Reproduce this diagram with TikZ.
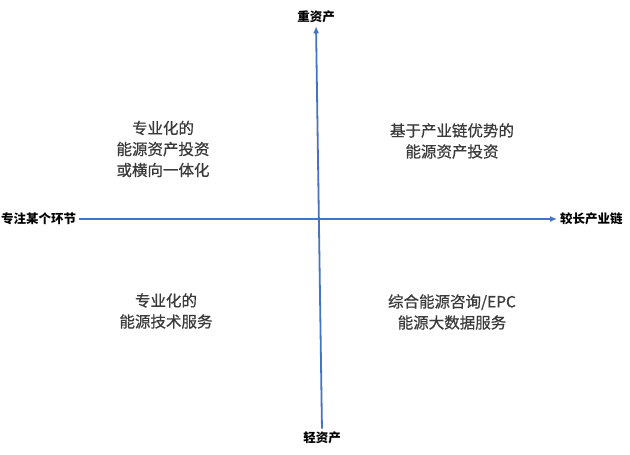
\documentclass[tikz,border=0pt]{standalone}
\usepackage{fontspec}
\setmainfont{Noto Sans CJK SC}
\newfontfamily\quadfont{Noto Sans CJK SC}[FakeBold=0.7]
\usetikzlibrary{arrows.meta}
\definecolor{axisblue}{HTML}{4472C4}
\definecolor{txtgray}{HTML}{3A3A3A}

\begin{document}
\begin{tikzpicture}[x=1pt, y=-1pt,
			axis/.style = {draw=axisblue, line width=1.8pt, shorten <=2pt, shorten >=2pt},
			lbl/.style  = {font=\fontsize{12.5}{14}\selectfont\bfseries, inner sep=1pt},
			quad/.style = {align=center, text=txtgray, font=\fontsize{15.5}{21}\selectfont\quadfont},
			>={Latex[length=7pt, width=6pt]}]
			
			\useasboundingbox (0,0) rectangle (630,455);
			
			% labels at the ends of the axes
			\node[lbl, anchor=west] (left) at (0,219) {专注某个环节};
			\node[lbl, anchor=west] (right) at (559,219) {较长产业链};
			\node[lbl] (top) at (316,17) {重资产};
			\node[lbl] (bottom) at (322,438) {轻资产};
			
			% the two axes
			\draw[axis, ->] (left.east) -- (right.west);
			\draw[axis, ->] (bottom.north) -- (top.south);
			
			% the four quadrants
			\node[quad] (q1) at (452,141) {基于产业链优势的\\能源资产投资};
			\node[quad] (q2) at (163,149) {专业化的\\能源资产投资\\或横向一体化};
			\node[quad] (q3) at (166,311) {专业化的\\能源技术服务};
			\node[quad] (q4) at (452,312) {综合能源咨询/EPC\\能源大数据服务};
		\end{tikzpicture}
\end{document}
